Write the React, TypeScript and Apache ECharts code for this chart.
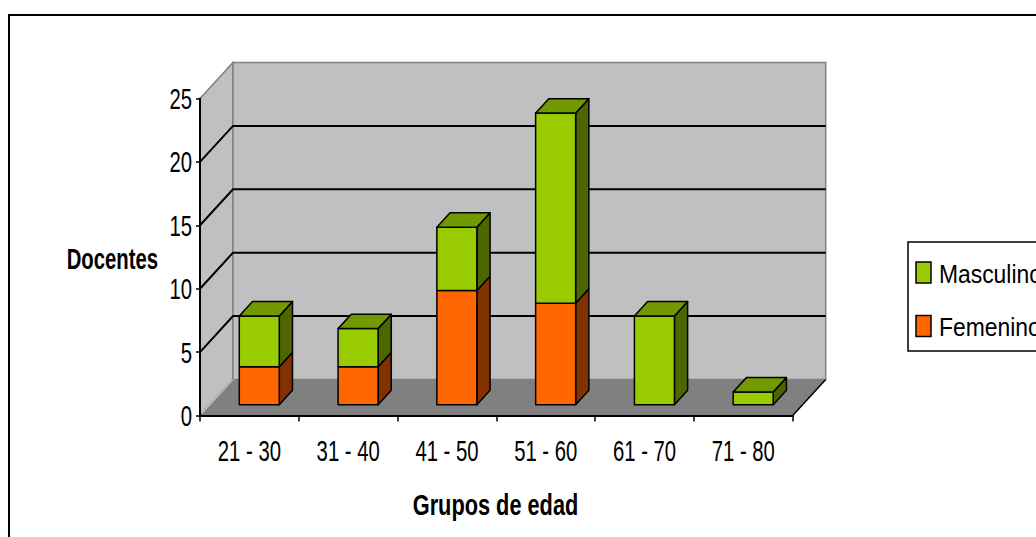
import React, { useEffect, useRef } from "react";
import * as echarts from "echarts";

const categories = ["21 - 30", "31 - 40", "41 - 50", "51 - 60", "61 - 70", "71 - 80"];
const femenino = [3, 3, 9, 8, 0, 0];
const masculino = [4, 3, 5, 15, 7, 1];
const yTicks = [0, 5, 10, 15, 20, 25];
const yMin = 0;
const yMax = 25;
const yInterval = 5;
const gridValues = [5, 10, 15, 20];
const seriesNames = ["Masculino", "Femenino"];
const yTitle = "Docentes";
const xTitle = "Grupos de edad";

const FONT = '"Liberation Sans", Arial, sans-serif';
const SX = 0.7;
const DX = 33;
const DY = -36;
const F1 = 0.3;
const F2 = 0.7;
const BAR_W = 0.405;

const GREEN = { front: "#99cc00", top: "#739900", side: "#4d6600" };
const ORANGE = { front: "#ff6600", top: "#bf4c00", side: "#803300" };

function makeBarRenderer(col: { front: string; top: string; side: string }) {
  return (params: any, api: any) => {
    const i = api.value(0);
    const base = api.value(1);
    const top = api.value(2);
    const isTop = api.value(3) === 1;
    if (top <= base) return null;
    const cw = api.size([1, 0])[0];
    const p0 = api.coord([i, base]);
    const p1 = api.coord([i, top]);
    const w = cw * BAR_W;
    const ox = DX * F1;
    const oy = DY * F1;
    const bx = DX * (F2 - F1);
    const by = DY * (F2 - F1);
    const xl = p0[0] - w / 2 + ox;
    const xr = p0[0] + w / 2 + ox;
    const yb = p0[1] + oy;
    const yt = p1[1] + oy;
    const stroke = { stroke: "#000", lineWidth: 1.5, lineJoin: "round" };
    const children: any[] = [
      {
        type: "polygon",
        shape: { points: [[xr, yb], [xr + bx, yb + by], [xr + bx, yt + by], [xr, yt]] },
        style: { fill: col.side, ...stroke },
      },
      {
        type: "rect",
        shape: { x: xl, y: yt, width: w, height: yb - yt },
        style: { fill: col.front, ...stroke },
      },
    ];
    if (isTop) {
      children.push({
        type: "polygon",
        shape: { points: [[xl, yt], [xr, yt], [xr + bx, yt + by], [xl + bx, yt + by]] },
        style: { fill: col.top, ...stroke },
      });
    }
    return { type: "group", children };
  };
}

function renderWalls(params: any, api: any) {
  const cs = params.coordSys;
  const x0 = cs.x;
  const x1 = cs.x + cs.width;
  const y0 = api.coord([0, yMin])[1];
  const yT = api.coord([0, yMax])[1];
  const children: any[] = [
    {
      type: "polygon",
      shape: { points: [[x0, y0], [x0, yT], [x0 + DX, yT + DY], [x0 + DX, y0 + DY]] },
      style: { fill: "#c0c0c0", stroke: "#808080", lineWidth: 1.5 },
    },
    {
      type: "rect",
      shape: { x: x0 + DX, y: yT + DY, width: x1 - x0, height: y0 - yT },
      style: { fill: "#c0c0c0", stroke: "#808080", lineWidth: 1.5 },
    },
    {
      type: "polygon",
      shape: { points: [[x0, y0], [x1, y0], [x1 + DX, y0 + DY], [x0 + DX, y0 + DY]] },
      style: { fill: "#808080", stroke: "#808080", lineWidth: 1 },
    },
    {
      type: "line",
      shape: { x1: x0 + 2, y1: y0 - 2, x2: x0 + DX, y2: y0 + DY },
      style: { stroke: "#e0e0e0", lineWidth: 1 },
    },
    {
      type: "line",
      shape: { x1: x1, y1: y0, x2: x1 + DX, y2: y0 + DY },
      style: { stroke: "#000", lineWidth: 1.5 },
    },
  ];
  gridValues.forEach((v) => {
    const y = api.coord([0, v])[1];
    children.push({
      type: "polyline",
      shape: { points: [[x0, y], [x0 + DX, y + DY], [x1 + DX, y + DY]] },
      style: { stroke: "#000", lineWidth: 2, fill: "none" },
    });
  });
  return { type: "group", children };
}

function renderYLabel(params: any, api: any) {
  const v = api.value(1);
  const y = api.coord([0, v])[1];
  const x = params.coordSys.x - 8;
  return {
    type: "text",
    x,
    y,
    scaleX: SX,
    style: {
      text: String(v),
      x: 0,
      y: 0,
      fill: "#000",
      fontFamily: FONT,
      fontSize: 29,
      align: "right",
      verticalAlign: "middle",
    },
  };
}

function renderXLabel(params: any, api: any) {
  const i = api.value(0);
  const p = api.coord([i, yMin]);
  return {
    type: "text",
    x: p[0],
    y: p[1] + 35,
    scaleX: SX,
    style: {
      text: categories[i],
      x: 0,
      y: 0,
      fill: "#000",
      fontFamily: FONT,
      fontSize: 29,
      align: "center",
      verticalAlign: "middle",
    },
  };
}

export default function App() {
  const ref = useRef<HTMLDivElement>(null);
  useEffect(() => {
    if (!ref.current) return;
    const chart = echarts.init(ref.current, null, { renderer: "svg" });
    const femData = categories.map((_, i) => [i, 0, femenino[i], masculino[i] === 0 ? 1 : 0]);
    const mascData = categories.map((_, i) => [i, femenino[i], femenino[i] + masculino[i], 1]);
    const legendColors = [GREEN.front, ORANGE.front];
    const legendY = [262, 315.5];
    chart.setOption({
      animation: false,
      backgroundColor: "#ffffff",
      textStyle: { fontFamily: FONT },
      graphic: [
        {
          type: "rect",
          z: -10,
          shape: { x: 9, y: 15, width: 1200, height: 700 },
          style: { fill: "none", stroke: "#000", lineWidth: 2 },
        },
        {
          type: "text",
          x: 158,
          y: 259,
          scaleX: SX,
          style: {
            text: yTitle,
            fill: "#000",
            fontFamily: FONT,
            fontSize: 29,
            fontWeight: "bold",
            align: "right",
            verticalAlign: "middle",
          },
        },
        {
          type: "text",
          x: 495.5,
          y: 505,
          scaleX: 0.75,
          style: {
            text: xTitle,
            fill: "#000",
            fontFamily: FONT,
            fontSize: 29,
            fontWeight: "bold",
            align: "center",
            verticalAlign: "middle",
          },
        },
        {
          type: "group",
          children: [
            {
              type: "rect",
              shape: { x: 908, y: 242, width: 200, height: 109 },
              style: { fill: "#fff", stroke: "#000", lineWidth: 1.5 },
            },
            ...seriesNames.flatMap((name, k) => [
              {
                type: "rect",
                shape: { x: 916, y: legendY[k], width: 15, height: 21 },
                style: { fill: legendColors[k], stroke: "#000", lineWidth: 1.5 },
              },
              {
                type: "text",
                x: 939,
                y: legendY[k] + 11.5,
                scaleX: 0.88,
                style: {
                  text: name,
                  fill: "#000",
                  fontFamily: FONT,
                  fontSize: 26,
                  align: "left",
                  verticalAlign: "middle",
                },
              },
            ]),
          ],
        },
      ],
      grid: { left: 200, width: 592.7, top: 98.5, height: 317, containLabel: false },
      xAxis: {
        type: "category",
        data: categories,
        z: 5,
        axisLine: { lineStyle: { color: "#000", width: 2 } },
        axisTick: { show: true, length: 6, lineStyle: { color: "#000", width: 1.5 } },
        axisLabel: { show: false },
        splitLine: { show: false },
      },
      yAxis: {
        type: "value",
        min: yMin,
        max: yMax,
        interval: yInterval,
        z: 5,
        axisLine: { show: true, lineStyle: { color: "#000", width: 2 } },
        axisTick: { show: true, length: 4, lineStyle: { color: "#000", width: 1.5 } },
        axisLabel: { show: false },
        splitLine: { show: false },
      },
      series: [
        {
          type: "custom",
          name: "walls",
          z: 1,
          silent: true,
          renderItem: renderWalls,
          data: [[0, 0]],
          encode: { x: 0, y: 1 },
          clip: false,
        },
        {
          type: "custom",
          name: "Femenino",
          z: 2,
          itemStyle: { color: ORANGE.front },
          renderItem: makeBarRenderer(ORANGE),
          data: femData,
          encode: { x: 0, y: [1, 2] },
          clip: false,
        },
        {
          type: "custom",
          name: "Masculino",
          z: 3,
          itemStyle: { color: GREEN.front },
          renderItem: makeBarRenderer(GREEN),
          data: mascData,
          encode: { x: 0, y: [1, 2] },
          clip: false,
        },
        {
          type: "custom",
          name: "yLabels",
          z: 6,
          silent: true,
          renderItem: renderYLabel,
          data: yTicks.map((v) => [0, v]),
          encode: { x: 0, y: 1 },
          clip: false,
        },
        {
          type: "custom",
          name: "xLabels",
          z: 6,
          silent: true,
          renderItem: renderXLabel,
          data: categories.map((_, i) => [i, 0]),
          encode: { x: 0, y: 1 },
          clip: false,
        },
      ],
    });
    return () => chart.dispose();
  }, []);
  return (
    <div
      ref={ref}
      style={{ position: "fixed", left: 0, top: 0, width: 1036, height: 537, background: "#fff" }}
    />
  );
}
